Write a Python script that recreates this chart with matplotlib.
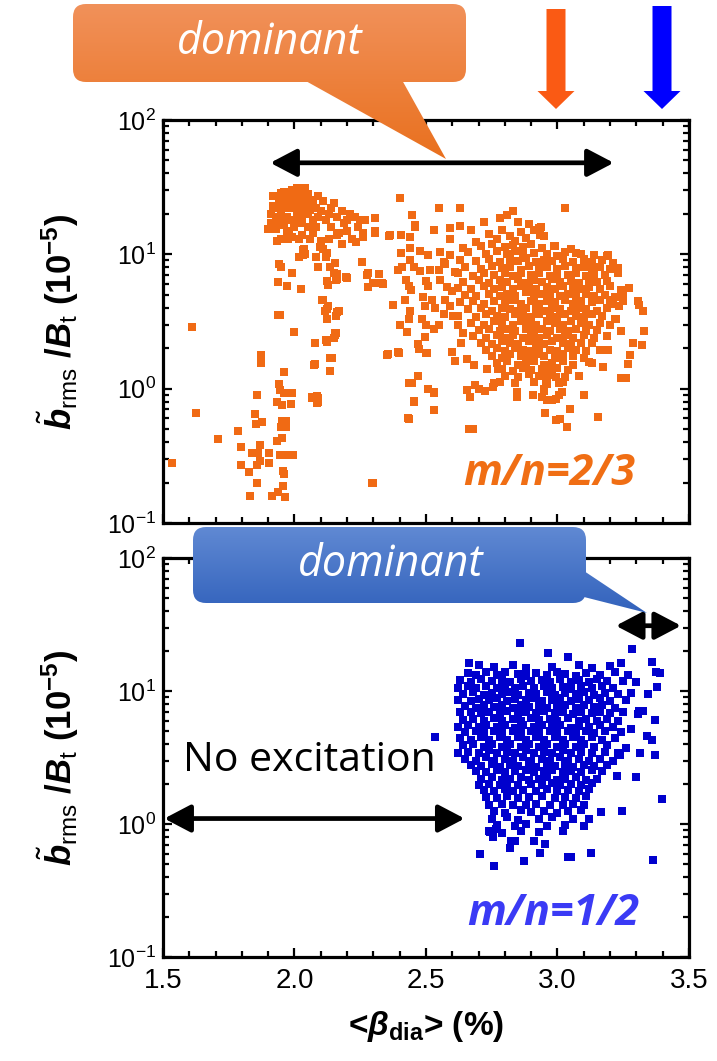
import matplotlib
matplotlib.use('Agg')
import matplotlib.pyplot as plt
import numpy as np
from matplotlib.patches import FancyBboxPatch, Polygon, FancyArrow
from matplotlib.colors import LinearSegmentedColormap
from matplotlib.ticker import MultipleLocator, FormatStrFormatter, LogLocator

plt.rcParams['font.family'] = ['Liberation Sans', 'DejaVu Sans']
plt.rcParams['mathtext.fontset'] = 'custom'
plt.rcParams['mathtext.rm'] = 'Liberation Sans'
plt.rcParams['mathtext.it'] = 'Liberation Sans:italic'
plt.rcParams['mathtext.bf'] = 'Liberation Sans:bold'
plt.rcParams['mathtext.bfit'] = 'Liberation Sans:italic:bold'

# ---- m/n=2/3 (orange), <beta_dia> (%) vs b_rms/B_t (1e-5) ----
o_left = [(1.534, 0.28), (1.609, 2.86), (1.624, 0.66), (1.71, 0.42), (1.787, 0.48), (1.798, 0.37),
          (1.795, 0.27), (1.828, 0.24), (1.83, 0.16), (1.856, 0.20), (1.849, 0.65), (1.853, 0.55),
          (1.878, 0.56), (1.856, 0.89), (1.872, 1.78), (1.871, 1.55), (1.868, 0.38), (1.862, 0.33),
          (1.84, 0.33), (1.868, 0.29), (1.858, 0.27), (1.904, 0.33), (1.904, 0.28), (1.934, 0.41),
          (1.944, 0.32), (1.963, 0.32), (1.995, 0.32), (1.947, 0.52), (1.967, 0.52), (1.951, 0.57),
          (1.967, 0.57), (1.951, 0.43), (1.96, 0.23), (1.958, 0.245), (1.955, 0.19), (1.938, 0.17),
          (1.915, 0.16), (1.963, 0.155), (1.942, 1.08), (1.96, 1.34), (1.944, 0.97), (1.96, 0.93),
          (1.989, 0.93), (1.934, 0.79), (1.951, 0.76), (1.985, 0.77), (1.936, 3.53), (1.944, 3.53),
          (1.998, 2.66), (1.938, 6.2), (1.97, 5.8), (2.024, 5.5), (1.989, 7.2), (1.942, 8.4),
          (1.948, 8.0), (1.934, 12.6), (1.974, 13.0), (2.018, 12.9), (2.018, 9.6), (2.033, 10.7),
          (2.04, 10.0), (2.295, 0.20)]

o_cluster = [(1.91, 17), (1.93, 19), (1.95, 21), (1.92, 23), (1.94, 25), (1.97, 27), (1.99, 30),
             (2.02, 29), (2.04, 27), (1.96, 24), (1.98, 22), (2.00, 25), (2.01, 21), (2.03, 23),
             (2.05, 20), (1.93, 15.5), (1.96, 16.5), (1.99, 18), (2.02, 17), (2.05, 16), (2.07, 18),
             (2.06, 24), (2.08, 22), (1.95, 13), (1.99, 13.5), (2.03, 14), (2.07, 14.5), (1.91, 20),
             (2.00, 28), (1.97, 19), (1.95, 28.5), (2.04, 31), (2.10, 21), (2.12, 18), (2.11, 25),
             (2.14, 16), (2.16, 19), (2.13, 13), (2.17, 14.5), (2.19, 17), (2.21, 20), (2.23, 19),
             (2.20, 15), (2.24, 16), (2.22, 13), (2.18, 12), (2.25, 18), (2.14, 22), (2.09, 27),
             (2.08, 16), (2.10, 12.5), (2.26, 14), (2.02, 19.5), (1.98, 15), (2.06, 13),
             (1.92, 27), (1.94, 22), (1.96, 29), (1.97, 22.5), (1.98, 26), (2.00, 23), (2.01, 18.5),
             (2.02, 26), (2.03, 20.5), (2.04, 24), (2.05, 28), (2.06, 21.5), (2.07, 25.5), (1.93, 17.5),
             (1.95, 18.5), (1.97, 15), (2.00, 16), (2.09, 19), (2.13, 20), (2.15, 24), (2.18, 21),
             (2.20, 18), (2.16, 14), (1.99, 24), (2.01, 31), (1.96, 26.5), (2.03, 17.8), (1.90, 15.5)]

o_column = [(2.078, 2.2), (2.078, 1.52), (2.065, 0.85), (2.09, 0.85), (2.088, 0.79), (2.135, 1.36),
            (2.141, 1.70), (2.125, 2.24), (2.158, 2.58), (2.155, 2.5), (2.125, 3.28), (2.158, 3.5),
            (2.17, 3.8), (2.116, 3.8), (2.107, 4.6), (2.128, 4.1), (2.09, 8.1), (2.128, 5.9),
            (2.122, 6.3), (2.158, 6.4), (2.16, 7.1), (2.154, 8.6), (2.198, 6.7), (2.122, 10.2),
            (2.11, 11.0), (2.098, 11.4), (2.12, 9.6), (2.134, 8.1), (2.15, 7.2), (2.16, 6.6),
            (2.105, 4.6), (2.122, 3.9), (2.163, 3.7), (2.156, 2.6), (2.15, 2.4), (2.12, 2.3),
            (2.076, 1.5), (2.136, 1.7), (2.068, 0.86), (2.087, 0.88), (2.087, 0.78), (2.083, 9.6),
            (2.032, 9.9), (2.017, 9.6), (2.036, 11.0)]

o_mid = [(2.197, 6.8), (2.257, 8.8), (2.26, 14.5), (2.235, 12.4), (2.305, 15), (2.362, 13.9),
         (2.405, 14), (2.441, 13.5), (2.46, 16), (2.53, 15.3), (2.593, 15.8), (2.631, 16.2),
         (2.276, 7.0), (2.32, 7.1), (2.304, 6.1), (2.333, 6.1), (2.279, 5.7), (2.375, 4.2),
         (2.405, 10.2), (2.44, 11.1), (2.479, 10.5), (2.507, 9.9), (2.552, 10.4), (2.59, 9.9),
         (2.44, 9.1), (2.392, 7.6), (2.409, 8.1), (2.456, 8.0), (2.476, 7.5), (2.514, 7.6),
         (2.549, 7.7), (2.574, 8.5), (2.425, 6.4), (2.444, 5.4), (2.434, 5.8), (2.502, 6.3),
         (2.507, 5.8), (2.555, 6.4), (2.58, 5.7), (2.489, 4.8), (2.523, 4.6), (2.536, 4.0),
         (2.574, 4.6), (2.495, 4.1), (2.568, 3.6), (2.603, 3.5), (2.422, 4.6), (2.441, 3.8),
         (2.434, 3.3), (2.4, 3.0), (2.428, 2.66), (2.485, 3.3), (2.502, 3.0), (2.532, 2.8),
         (2.551, 3.0), (2.495, 2.44), (2.47, 2.15), (2.472, 1.96), (2.504, 1.85), (2.356, 1.81),
         (2.396, 1.85), (2.47, 1.24), (2.447, 1.10), (2.507, 1.0), (2.532, 0.94), (2.456, 0.81),
         (2.532, 0.69), (2.434, 0.59), (2.297, 0.197), (2.663, 0.50), (2.679, 0.50), (2.6, 1.86),
         (2.61, 1.6), (2.635, 2.2), (2.657, 1.65), (2.682, 1.5), (2.657, 0.97), (2.667, 0.87),
         (2.688, 1.07), (2.701, 1.0), (2.726, 0.96), (2.76, 1.1), (2.755, 1.03), (2.733, 1.4),
         (2.773, 1.4), (2.4, 26.4), (2.55, 22), (2.63, 22), (2.445, 19.6), (2.46, 16.5),
         (2.306, 18.5), (2.306, 14.5), (2.262, 13.4), (2.27, 18.0), (2.258, 8.8), (2.28, 7.2),
         (2.30, 6.1), (2.335, 6.0), (2.353, 1.79), (2.394, 1.86), (2.437, 1.1), (2.455, 0.80),
         (2.433, 0.60), (2.506, 1.0), (2.53, 0.93), (2.5, 1.85), (2.36, 13.6), (2.59, 13.0),
         (2.57, 8.8), (2.61, 7.4), (2.60, 5.3), (2.59, 4.1), (2.62, 3.0), (2.64, 2.6)]

o_right = [(2.936, 15.9), (2.934, 13.9), (2.985, 11.5), (3.07, 10.3), (3.193, 9.9), (3.231, 7.9),
           (3.273, 5.6), (3.251, 5.1), (3.235, 4.1), (3.2, 4.6), (3.307, 4.5), (3.311, 4.2),
           (3.327, 3.8), (3.33, 2.7), (3.222, 3.3), (3.286, 2.17), (3.321, 2.1), (3.277, 1.78),
           (3.269, 1.52), (3.241, 1.19), (3.26, 1.19), (3.193, 1.94), (3.175, 1.46), (3.12, 1.58),
           (3.099, 0.90), (3.047, 0.71), (3.156, 0.62), (2.996, 0.58), (3.009, 0.59), (3.038, 0.515),
           (2.953, 0.66), (2.907, 0.90), (2.845, 0.94), (2.848, 0.87), (2.943, 0.86), (2.949, 0.96),
           (2.962, 0.83), (2.981, 0.83), (2.994, 0.84), (3.006, 0.90), (3.019, 0.94), (3.006, 1.11),
           (2.955, 1.12), (2.962, 1.22), (2.994, 1.22), (2.949, 1.0), (3.03, 22)]

o_blob = [(2.78, 18.5), (2.83, 21), (2.85, 17.5), (2.89, 16.8), (2.93, 15.8), (2.72, 17.3), (2.81, 19.5),
          (2.67, 15.3), (2.74, 14.2), (2.79, 15.1), (2.82, 13.8), (2.86, 14.6), (2.88, 13.2), (2.91, 15.2),
          (2.95, 13.6), (2.77, 12.9), (2.84, 12.6), (2.69, 12.4),
          (2.64, 11.2), (2.71, 11.6), (2.75, 11.9), (2.80, 11.3), (2.83, 11.8), (2.87, 11.4), (2.90, 12.0),
          (2.94, 11.1), (2.99, 11.5), (3.05, 11.0),
          (2.66, 10.4), (2.73, 10.0), (2.77, 10.5), (2.81, 10.1), (2.84, 10.6), (2.87, 9.9), (2.91, 10.3),
          (2.96, 10.1), (3.00, 9.8), (3.03, 10.4), (3.09, 10.0), (3.14, 9.9), (3.19, 9.7),
          (2.63, 9.1), (2.69, 8.9), (2.74, 9.3), (2.78, 8.8), (2.82, 9.2), (2.85, 8.9), (2.88, 9.4),
          (2.92, 8.7), (2.95, 9.1), (2.98, 8.9), (3.02, 9.3), (3.06, 8.8), (3.10, 9.2), (3.13, 8.8),
          (3.17, 9.0), (3.21, 8.6),
          (2.65, 8.0), (2.71, 7.8), (2.75, 8.2), (2.79, 7.9), (2.82, 8.1), (2.86, 7.7), (2.89, 8.2),
          (2.93, 7.9), (2.96, 8.1), (3.00, 7.8), (3.03, 8.2), (3.07, 7.9), (3.10, 8.0), (3.13, 7.7),
          (3.16, 8.1), (3.20, 7.8),
          (2.62, 7.2), (2.68, 6.9), (2.72, 7.2), (2.76, 7.0), (2.80, 7.3), (2.83, 6.9), (2.86, 7.2),
          (2.90, 7.0), (2.93, 7.3), (2.97, 6.9), (3.00, 7.1), (3.04, 7.0), (3.07, 7.3), (3.11, 6.9),
          (3.14, 7.1), (3.18, 7.0), (3.23, 7.2),
          (2.64, 6.2), (2.70, 6.4), (2.74, 6.1), (2.78, 6.4), (2.81, 6.2), (2.85, 6.5), (2.88, 6.1),
          (2.91, 6.4), (2.94, 6.2), (2.98, 6.5), (3.01, 6.2), (3.05, 6.3), (3.08, 6.1), (3.12, 6.4),
          (3.15, 6.2), (3.19, 6.3),
          (2.62, 5.6), (2.67, 5.5), (2.72, 5.8), (2.76, 5.5), (2.79, 5.7), (2.83, 5.5), (2.86, 5.8),
          (2.89, 5.6), (2.92, 5.5), (2.96, 5.7), (2.99, 5.5), (3.02, 5.8), (3.06, 5.6), (3.09, 5.5),
          (3.12, 5.7), (3.16, 5.5), (3.20, 5.8), (3.24, 5.4),
          (2.65, 5.0), (2.69, 4.9), (2.74, 5.1), (2.78, 4.9), (2.81, 5.1), (2.84, 4.9), (2.88, 5.2),
          (2.91, 4.9), (2.94, 5.1), (2.97, 5.0), (3.01, 4.9), (3.04, 5.1), (3.07, 4.9), (3.11, 5.1),
          (3.14, 4.9), (3.18, 5.0), (3.22, 4.8),
          (2.63, 4.4), (2.68, 4.5), (2.72, 4.3), (2.76, 4.5), (2.80, 4.4), (2.83, 4.6), (2.86, 4.3),
          (2.90, 4.5), (2.93, 4.3), (2.96, 4.5), (2.99, 4.4), (3.03, 4.6), (3.06, 4.3), (3.09, 4.5),
          (3.13, 4.4), (3.16, 4.6), (3.21, 4.3), (3.25, 4.5),
          (2.66, 3.9), (2.71, 4.0), (2.75, 3.8), (2.79, 4.0), (2.82, 3.9), (2.85, 3.8), (2.88, 4.0),
          (2.92, 3.9), (2.95, 3.8), (2.98, 4.0), (3.01, 3.9), (3.05, 3.8), (3.08, 4.0), (3.11, 3.9),
          (3.15, 3.8), (3.19, 4.0),
          (2.62, 3.5), (2.69, 3.4), (2.73, 3.6), (2.77, 3.5), (2.80, 3.4), (2.84, 3.6), (2.87, 3.5),
          (2.90, 3.4), (2.93, 3.6), (2.97, 3.5), (3.00, 3.4), (3.03, 3.6), (3.07, 3.5), (3.10, 3.4),
          (3.13, 3.6), (3.17, 3.5), (3.22, 3.3),
          (2.67, 3.1), (2.72, 3.0), (2.76, 3.2), (2.79, 3.1), (2.83, 3.0), (2.86, 3.2), (2.89, 3.1),
          (2.92, 3.0), (2.96, 3.2), (2.99, 3.1), (3.02, 3.0), (3.05, 3.2), (3.09, 3.1), (3.12, 3.0),
          (3.16, 3.1), (3.20, 3.0),
          (2.70, 2.75), (2.74, 2.8), (2.78, 2.7), (2.81, 2.8), (2.84, 2.7), (2.88, 2.8), (2.91, 2.7),
          (2.94, 2.8), (2.97, 2.7), (3.01, 2.8), (3.04, 2.7), (3.07, 2.8), (3.11, 2.7), (3.15, 2.75),
          (3.24, 2.7),
          (2.68, 2.45), (2.73, 2.4), (2.77, 2.5), (2.80, 2.4), (2.83, 2.5), (2.87, 2.4), (2.90, 2.5),
          (2.93, 2.4), (2.96, 2.5), (3.00, 2.4), (3.03, 2.5), (3.06, 2.4), (3.10, 2.5), (3.14, 2.4),
          (3.19, 2.45),
          (2.71, 2.2), (2.75, 2.15), (2.79, 2.25), (2.82, 2.2), (2.85, 2.15), (2.89, 2.25), (2.92, 2.2),
          (2.95, 2.15), (2.98, 2.25), (3.02, 2.2), (3.05, 2.15), (3.09, 2.2), (3.13, 2.2),
          (2.73, 1.95), (2.77, 2.0), (2.80, 1.9), (2.84, 2.0), (2.87, 1.95), (2.90, 1.9), (2.93, 2.0),
          (2.97, 1.95), (3.00, 1.9), (3.04, 2.0), (3.07, 1.95), (3.11, 1.9), (3.16, 1.95),
          (2.75, 1.75), (2.79, 1.7), (2.82, 1.8), (2.86, 1.75), (2.89, 1.7), (2.92, 1.8), (2.95, 1.75),
          (2.99, 1.7), (3.02, 1.8), (3.06, 1.75), (3.10, 1.7),
          (2.77, 1.55), (2.81, 1.6), (2.85, 1.5), (2.88, 1.55), (2.91, 1.6), (2.95, 1.5), (2.98, 1.55),
          (3.02, 1.6), (3.06, 1.5), (3.13, 1.55),
          (2.79, 1.4), (2.83, 1.35), (2.87, 1.42), (2.90, 1.38), (2.94, 1.4), (2.97, 1.35), (3.00, 1.42),
          (3.04, 1.38),
          (2.80, 1.25), (2.85, 1.22), (2.89, 1.28), (2.93, 1.24), (2.98, 1.27), (3.03, 1.22), (3.08, 1.25),
          (2.78, 1.12), (2.84, 1.1), (2.91, 1.13), (2.96, 1.08), (3.02, 1.12)]

# ---- m/n=1/2 (blue) ----
b_out = [(2.857, 22.8), (2.964, 19.4), (3.041, 17.9), (3.285, 20.7), (3.361, 16.6), (2.665, 16.3),
         (3.374, 14.0), (3.39, 13.6), (3.378, 10.8), (3.345, 9.5), (3.326, 7.1), (3.37, 6.1),
         (3.308, 6.7), (3.342, 4.6), (3.361, 4.3), (3.37, 3.3), (3.314, 3.4), (3.3, 2.24),
         (3.238, 3.3), (3.225, 2.3), (3.396, 1.53), (3.245, 1.25), (3.167, 1.23), (3.363, 0.54),
         (3.126, 0.61), (3.05, 0.57), (3.041, 0.57), (2.933, 0.61), (2.951, 0.71), (2.872, 0.53),
         (2.758, 0.48), (2.705, 0.60), (2.822, 0.74), (2.837, 0.74), (2.819, 0.66), (2.91, 0.75),
         (2.754, 0.80), (2.745, 0.87), (2.765, 0.91), (2.536, 4.5)]

b_blob = [(2.70, 15.8), (2.76, 15.2), (2.83, 15.6), (2.88, 14.8), (2.98, 15.1), (3.08, 15.7), (3.13, 14.9),
          (3.20, 15.4), (3.24, 16.2),
          (2.66, 13.6), (2.69, 13.1), (2.73, 13.8), (2.77, 13.3), (2.80, 14.0), (2.85, 13.5), (2.88, 13.0),
          (2.92, 13.7), (2.96, 13.2), (3.00, 13.9), (3.03, 13.4), (3.07, 13.0), (3.11, 13.6), (3.16, 13.2),
          (3.22, 13.8), (3.27, 13.3),
          (2.63, 12.1), (2.67, 11.8), (2.71, 12.3), (2.75, 11.9), (2.79, 12.2), (2.82, 11.7), (2.86, 12.4),
          (2.90, 11.9), (2.94, 12.2), (2.97, 11.6), (3.01, 12.3), (3.05, 11.8), (3.08, 12.1), (3.12, 11.7),
          (3.15, 12.3), (3.19, 11.9), (3.25, 12.0), (3.30, 11.6),
          (2.62, 10.6), (2.66, 11.0), (2.69, 10.5), (2.73, 10.9), (2.77, 10.6), (2.80, 11.0), (2.84, 10.5),
          (2.87, 10.9), (2.91, 10.6), (2.95, 11.0), (2.98, 10.5), (3.02, 10.8), (3.05, 10.4), (3.09, 10.9),
          (3.13, 10.6), (3.17, 10.9), (3.21, 10.5),
          (2.64, 9.5), (2.68, 9.8), (2.72, 9.4), (2.75, 9.7), (2.79, 9.5), (2.82, 9.8), (2.85, 9.4),
          (2.89, 9.7), (2.92, 9.5), (2.96, 9.8), (2.99, 9.4), (3.03, 9.7), (3.07, 9.5), (3.10, 9.8),
          (3.14, 9.4), (3.18, 9.7), (3.23, 9.5), (3.28, 9.6),
          (2.62, 8.6), (2.67, 8.4), (2.70, 8.7), (2.74, 8.5), (2.77, 8.8), (2.81, 8.4), (2.84, 8.7),
          (2.88, 8.5), (2.91, 8.8), (2.94, 8.4), (2.98, 8.6), (3.01, 8.8), (3.05, 8.4), (3.08, 8.7),
          (3.12, 8.5), (3.16, 8.8), (3.20, 8.4), (3.26, 8.6),
          (2.65, 7.7), (2.69, 7.5), (2.72, 7.8), (2.76, 7.6), (2.79, 7.9), (2.83, 7.5), (2.86, 7.8),
          (2.89, 7.6), (2.93, 7.9), (2.96, 7.5), (3.00, 7.7), (3.03, 7.9), (3.07, 7.5), (3.10, 7.8),
          (3.14, 7.6), (3.17, 7.9), (3.22, 7.5), (3.31, 7.1),
          (2.63, 6.9), (2.67, 7.0), (2.71, 6.8), (2.74, 7.0), (2.78, 6.8), (2.81, 7.1), (2.85, 6.8),
          (2.88, 7.0), (2.92, 6.8), (2.95, 7.1), (2.99, 6.8), (3.02, 7.0), (3.06, 6.7), (3.09, 7.0),
          (3.13, 6.8), (3.16, 7.0), (3.20, 6.8), (3.25, 6.9),
          (2.64, 6.1), (2.68, 6.2), (2.72, 6.0), (2.76, 6.3), (2.79, 6.0), (2.83, 6.2), (2.86, 6.0),
          (2.90, 6.3), (2.93, 6.1), (2.97, 6.2), (3.00, 6.0), (3.04, 6.3), (3.08, 6.0), (3.11, 6.2),
          (3.15, 6.0), (3.19, 6.2), (3.23, 6.0),
          (2.62, 5.4), (2.66, 5.6), (2.70, 5.4), (2.73, 5.6), (2.77, 5.4), (2.80, 5.6), (2.84, 5.3),
          (2.87, 5.6), (2.91, 5.4), (2.94, 5.6), (2.98, 5.4), (3.01, 5.6), (3.05, 5.3), (3.08, 5.5),
          (3.12, 5.4), (3.16, 5.6), (3.21, 5.4), (3.28, 5.2),
          (2.65, 4.9), (2.69, 5.0), (2.72, 4.8), (2.76, 5.0), (2.79, 4.8), (2.83, 5.0), (2.86, 4.8),
          (2.90, 5.0), (2.93, 4.8), (2.97, 5.0), (3.00, 4.8), (3.04, 5.0), (3.07, 4.8), (3.11, 5.0),
          (3.14, 4.8), (3.18, 5.0), (3.24, 4.9),
          (2.63, 4.4), (2.67, 4.3), (2.71, 4.5), (2.74, 4.3), (2.78, 4.5), (2.81, 4.3), (2.85, 4.5),
          (2.88, 4.3), (2.92, 4.5), (2.95, 4.3), (2.99, 4.5), (3.02, 4.3), (3.06, 4.5), (3.09, 4.3),
          (3.13, 4.5), (3.17, 4.3), (3.22, 4.4),
          (2.64, 3.9), (2.68, 4.0), (2.72, 3.8), (2.75, 4.0), (2.79, 3.8), (2.82, 4.0), (2.86, 3.8),
          (2.89, 4.0), (2.93, 3.8), (2.96, 4.0), (3.00, 3.8), (3.03, 4.0), (3.07, 3.8), (3.10, 4.0),
          (3.14, 3.8), (3.19, 3.9), (3.26, 3.7),
          (2.62, 3.4), (2.66, 3.5), (2.70, 3.4), (2.74, 3.6), (2.77, 3.4), (2.81, 3.5), (2.84, 3.4),
          (2.88, 3.6), (2.91, 3.4), (2.95, 3.5), (2.98, 3.4), (3.02, 3.6), (3.05, 3.4), (3.09, 3.5),
          (3.13, 3.4), (3.18, 3.5), (3.23, 3.4),
          (2.65, 3.1), (2.69, 3.0), (2.73, 3.2), (2.76, 3.0), (2.80, 3.1), (2.83, 3.0), (2.87, 3.2),
          (2.90, 3.0), (2.94, 3.1), (2.97, 3.0), (3.01, 3.2), (3.04, 3.0), (3.08, 3.1), (3.12, 3.0),
          (3.16, 3.1), (3.21, 3.0),
          (2.67, 2.8), (2.71, 2.75), (2.75, 2.85), (2.78, 2.7), (2.82, 2.8), (2.85, 2.75), (2.89, 2.85),
          (2.92, 2.7), (2.96, 2.8), (2.99, 2.75), (3.03, 2.85), (3.06, 2.7), (3.10, 2.8), (3.14, 2.75),
          (3.19, 2.8),
          (2.69, 2.5), (2.73, 2.45), (2.77, 2.55), (2.80, 2.45), (2.84, 2.5), (2.88, 2.55), (2.91, 2.45),
          (2.95, 2.5), (2.98, 2.55), (3.02, 2.45), (3.05, 2.5), (3.09, 2.45), (3.13, 2.55), (3.17, 2.5),
          (2.71, 2.2), (2.75, 2.25), (2.79, 2.15), (2.82, 2.2), (2.86, 2.25), (2.89, 2.15), (2.93, 2.2),
          (2.96, 2.25), (3.00, 2.15), (3.03, 2.2), (3.07, 2.25), (3.11, 2.15), (3.15, 2.2),
          (2.70, 1.98), (2.74, 2.0), (2.78, 1.96), (2.81, 2.02), (2.85, 1.97), (2.90, 2.0), (2.94, 1.96),
          (2.98, 2.02), (3.01, 1.97), (3.05, 2.0), (3.09, 1.96), (3.13, 2.02),
          (2.72, 1.8), (2.76, 1.76), (2.80, 1.82), (2.83, 1.78), (2.87, 1.8), (2.92, 1.76), (2.96, 1.82),
          (3.00, 1.78), (3.04, 1.8), (3.08, 1.76), (3.12, 1.82),
          (2.73, 1.6), (2.77, 1.58), (2.81, 1.62), (2.85, 1.58), (2.89, 1.6), (2.94, 1.62), (2.99, 1.58),
          (3.03, 1.6), (3.07, 1.58), (3.11, 1.62),
          (2.74, 1.4), (2.79, 1.42), (2.83, 1.38), (2.88, 1.4), (2.92, 1.42), (2.97, 1.38), (3.02, 1.4),
          (3.06, 1.42), (3.10, 1.38),
          (2.76, 1.25), (2.80, 1.22), (2.86, 1.27), (2.90, 1.23), (2.95, 1.26), (3.00, 1.22), (3.04, 1.25),
          (3.09, 1.27),
          (2.75, 1.1), (2.81, 1.12), (2.85, 1.08), (2.93, 1.1), (2.98, 1.12), (3.06, 1.09), (3.12, 1.1),
          (2.77, 0.98), (2.84, 0.96), (2.88, 1.0), (2.96, 0.97), (3.03, 0.99), (3.10, 0.96),
          (2.74, 0.88), (2.79, 0.86), (2.86, 0.89), (2.93, 0.87), (3.02, 0.88)]

orange_pts = np.array(o_left + o_cluster + o_column + o_mid + o_right + o_blob)
blue_pts = np.array(b_out + b_blob)

ORANGE = '#F06A14'
BLUE = '#0000CD'
CALLOUT_FONT = ['Open Sans', 'DejaVu Sans']

fig = plt.figure(figsize=(7.17, 10.61), dpi=100)
ax1 = fig.add_axes([0.2273, 0.5071, 0.7336, 0.3798])
ax2 = fig.add_axes([0.2273, 0.0980, 0.7336, 0.3760])

ax1.scatter(orange_pts[:, 0], orange_pts[:, 1], marker='s', s=34, c=ORANGE, linewidths=0, zorder=3)
ax2.scatter(blue_pts[:, 0], blue_pts[:, 1], marker='s', s=34, c=BLUE, linewidths=0, zorder=3)

ylab = (r'$\tilde{\mathbfit{b}}_{\mathrm{rms}}$ $\mathbf{/}\mathbfit{B}_{\mathrm{t}}$'
        r' $\mathbf{(10^{-5})}$')
for ax in (ax1, ax2):
    ax.set_yscale('log')
    ax.set_xlim(1.5, 3.5)
    ax.set_ylim(0.1, 100)
    ax.xaxis.set_major_locator(MultipleLocator(0.5))
    ax.xaxis.set_minor_locator(MultipleLocator(0.1))
    ax.xaxis.set_major_formatter(FormatStrFormatter('%.1f'))
    ax.yaxis.set_minor_locator(LogLocator(subs=np.arange(2, 10)))
    ax.tick_params(which='both', direction='in', top=True, right=True, width=1.6)
    ax.tick_params(which='major', length=6.5)
    ax.tick_params(which='minor', length=4)
    ax.tick_params(axis='y', labelsize=18, pad=5)
    ax.tick_params(axis='x', labelsize=20, pad=8)
    for sp in ax.spines.values():
        sp.set_linewidth(2.3)
    ax.set_ylabel(ylab, fontsize=25)
    ax.yaxis.set_label_coords(-0.155, 0.5)

ax1.tick_params(labelbottom=False)
ax2.set_xlabel('<' + r'$\mathbfit{\beta}_{\mathbf{dia}}$' + '> (%)', fontsize=24, fontweight='bold')
ax2.xaxis.set_label_coords(0.5, -0.13)

# double arrows marking the ranges
arrow_kw = dict(arrowstyle='<|-|>,head_length=0.8,head_width=0.42', lw=3.4, color='black',
                shrinkA=0, shrinkB=0, mutation_scale=20)
ax1.annotate('', xy=(3.214, 48), xytext=(1.908, 48), arrowprops=arrow_kw, zorder=4)
ax2.annotate('', xy=(3.47, 31), xytext=(3.222, 31), arrowprops=arrow_kw, zorder=4)
ax2.annotate('', xy=(2.647, 1.1), xytext=(1.505, 1.1), arrowprops=arrow_kw, zorder=4)

ax2.text(1.576, 3.0, 'No excitation', fontsize=29.5, family=CALLOUT_FONT,
         ha='left', va='center', color='black')
ax1.text(2.64, 0.235, 'm/n=2/3', fontsize=31, family=CALLOUT_FONT,
         style='italic', weight='bold', ha='left', va='center', color='#F06E14')
ax2.text(2.658, 0.214, 'm/n=1/2', fontsize=31, family=CALLOUT_FONT,
         style='italic', weight='bold', ha='left', va='center', color='#3A3AF5')

# overlay in pixel coordinates for the callouts and the top arrows
ov = fig.add_axes([0, 0, 1, 1], zorder=10)
ov.set_xlim(0, 717)
ov.set_ylim(1061, 0)
ov.axis('off')
ov.patch.set_alpha(0)


def callout(box, tri, c_top, c_bot, y_top, y_bot):
    cmap = LinearSegmentedColormap.from_list('g', [c_top, c_bot])
    grad = np.linspace(0, 1, 256).reshape(-1, 1)
    for p in (box, tri):
        p.set_facecolor('none')
        p.set_edgecolor('none')
        ov.add_patch(p)
        im = ov.imshow(grad, cmap=cmap, aspect='auto', origin='upper',
                       extent=(0, 717, y_bot, y_top), interpolation='bilinear')
        im.set_clip_path(p)


callout(FancyBboxPatch((73, 4), 393, 78, boxstyle='round,pad=0,rounding_size=13'),
        Polygon([(304, 80), (402, 80), (446, 159)]),
        '#F1915A', '#E9701E', 4, 159)
callout(FancyBboxPatch((193, 527), 393, 76, boxstyle='round,pad=0,rounding_size=13'),
        Polygon([(584, 571), (584, 597), (647, 613)]),
        '#6089D3', '#3262BC', 527, 613)
ov.set_xlim(0, 717)
ov.set_ylim(1061, 0)

ov.text(270, 43, 'dominant', fontsize=31, family=CALLOUT_FONT, style='italic',
        color='white', ha='center', va='center')
ov.text(391, 565, 'dominant', fontsize=31, family=CALLOUT_FONT, style='italic',
        color='white', ha='center', va='center')

ov.add_patch(FancyArrow(556, 9, 0, 100, width=19, head_width=37, head_length=18,
                        length_includes_head=True, color='#FA5A14', lw=0))
ov.add_patch(FancyArrow(662, 6, 0, 103, width=19, head_width=37, head_length=18,
                        length_includes_head=True, color='#0000FF', lw=0))

fig.savefig('out.png', dpi=100)
